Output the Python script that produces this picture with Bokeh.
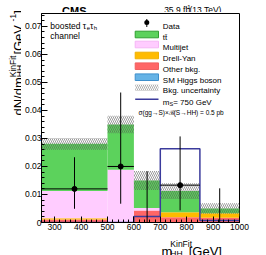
import math
from bokeh.plotting import figure
from bokeh.layouts import row, column
from bokeh.models import Range1d, FixedTicker, Label, BoxAnnotation
from bokeh.core.properties import value
from bokeh.embed import file_html
from bokeh.resources import INLINE

# ---------------- data ----------------
bin_edges = [250, 500, 600, 700, 850, 1000]
ttbar = [0.0169, 0.0162, 0.0098, 0.0075, 0.0017]
multijet = [0.0097, 0.0188, 0.0009, 0.0, 0.0]
drell_yan = [0.0004, 0.0, 0.0, 0.0018, 0.0016]
other_bkg = [0.0010, 0.0, 0.0042, 0.0018, 0.0016]
sm_higgs = [0.0001, 0.0, 0.0001, 0.0001, 0.0001]
bkg_unc = [0.0021, 0.0031, 0.0034, 0.0028, 0.0019]
signal = [0.0, 0.0, 0.0021, 0.0263, 0.0007]
data_y = [0.0120, 0.0200, 0.0, 0.01333, 0.0]
data_err_lo = [0.0071, 0.0133, 0.0, 0.0090, 0.0]
data_err_hi = [0.0113, 0.0264, 0.0183, 0.0174, 0.0122]

y_ticks = [0.0, 0.01, 0.02, 0.03, 0.04, 0.05, 0.06, 0.07]
y_tick_labels = ["0", "0.01", "0.02", "0.03", "0.04", "0.05", "0.06", "0.07"]
x_ticks = [300, 400, 500, 600, 700, 800, 900, 1000]
x_tick_labels = ["300", "400", "500", "600", "700", "800", "900", "1000"]

# ---------------- style ----------------
FONT = "Liberation Sans"
C_TT = "#5cd25c"
C_MJ = "#ffccff"
C_DY = "#ffbb00"
C_OT = "#ff6666"
C_SM = "#66b3e6"
C_SIG = "#3b3b9c"

# layout (canvas px): title column | (top strip / main / x-title strip)
PX0, PY0 = 0, 0
TOTW, TOTH = 266, 255
YW = 21
TOPH, MAINH = 12, 221
XH = TOTH - TOPH - MAINH
MAINW = TOTW - YW
XR = (250, 1000)
YR = (0, 0.0746)
FL, FR, FT, FB = 38, 239, 13, 222   # main frame edges (canvas px)

# ---------------- main figure ----------------
p = figure(width=MAINW, height=MAINH, output_backend="svg", toolbar_location=None,
           x_range=Range1d(*XR), y_range=Range1d(*YR),
           min_border_left=FL - (PX0 + YW), min_border_right=(PX0 + YW + MAINW) - FR,
           min_border_top=FT - (PY0 + TOPH), min_border_bottom=(PY0 + TOPH + MAINH) - FB)
p.background_fill_color = "white"
p.border_fill_color = "white"
p.outline_line_color = "black"
p.outline_line_width = 1
p.outline_line_alpha = 1
p.xgrid.visible = False
p.ygrid.visible = False

p.xaxis.ticker = FixedTicker(ticks=x_ticks, minor_ticks=list(range(260, 1001, 20)))
p.xaxis.major_label_overrides = {t: l for t, l in zip(x_ticks, x_tick_labels)}
p.yaxis.ticker = FixedTicker(ticks=y_ticks, minor_ticks=[i * 0.002 for i in range(0, 38)])
p.yaxis.major_label_overrides = {t: l for t, l in zip(y_ticks, y_tick_labels)}
for ax in (p.xaxis[0], p.yaxis[0]):
    ax.axis_line_color = "black"
    ax.major_tick_line_color = "black"
    ax.minor_tick_line_color = "black"
    ax.major_tick_in = 6
    ax.major_tick_out = 0
    ax.minor_tick_in = 3
    ax.minor_tick_out = 0
    ax.major_label_text_font = FONT
    ax.major_label_text_color = "black"
    ax.major_label_text_font_size = "8.5px"
    ax.axis_label = None
p.xaxis.major_label_standoff = 1
p.yaxis.major_label_standoff = 0

# stacked backgrounds
lefts = bin_edges[:-1]
rights = bin_edges[1:]
stack = [(sm_higgs, C_SM), (other_bkg, C_OT), (drell_yan, C_DY), (multijet, C_MJ), (ttbar, C_TT)]
base = [0.0] * len(lefts)
for vals, col in stack:
    top = [b + v for b, v in zip(base, vals)]
    p.quad(left=lefts, right=rights, bottom=base, top=top, fill_color=col, line_color=None)
    base = top
total = base

p.quad(left=lefts, right=rights,
       bottom=[t - u for t, u in zip(total, bkg_unc)],
       top=[t + u for t, u in zip(total, bkg_unc)],
       fill_color=None, line_color=None,
       hatch_pattern="\\", hatch_color="#555555", hatch_scale=4, hatch_weight=0.6, hatch_alpha=1)

p.step(x=bin_edges, y=signal + [signal[-1]], mode="after", line_color=C_SIG, line_width=1.5)

centers = [(l + r) / 2 for l, r in zip(lefts, rights)]
p.segment(x0=centers, x1=centers,
          y0=[y - e for y, e in zip(data_y, data_err_lo)],
          y1=[y + e for y, e in zip(data_y, data_err_hi)],
          line_color="black", line_width=1)
nz = [i for i, y in enumerate(data_y) if y > 0]
p.segment(x0=[lefts[i] for i in nz], x1=[rights[i] for i in nz],
          y0=[data_y[i] for i in nz], y1=[data_y[i] for i in nz],
          line_color="black", line_width=1)
p.scatter(x=[centers[i] for i in nz], y=[data_y[i] for i in nz], size=5,
          marker="circle", fill_color="black", line_color="black")

# ---------------- helpers ----------------
CW = {c: 0.556 for c in "0123456789"}
CW.update({' ': .278, '.': .278, '/': .278, '-': .333, '(': .333, ')': .333, '[': .278, ']': .278,
           '=': .584, 'A': .667, 'C': .722, 'F': .611, 'G': .778, 'H': .722, 'K': .667, 'M': .833,
           'N': .722, 'S': .667, 'T': .611, 'V': .667, 'a': .556, 'b': .556, 'c': .5, 'd': .556,
           'e': .556, 'f': .278, 'g': .556, 'h': .556, 'i': .222, 'l': .222, 'm': .833, 'n': .556,
           'o': .556, 'p': .556, 's': .5, 't': .278, 'τ': .45})


def tw(s, size):
    return sum(CW.get(c, .556) for c in s) * size


def lab(px, py, text, size, bold=False):
    p.add_layout(Label(x=px - FL, y=FB - py, x_units="screen", y_units="screen", text=text,
                       text_font=FONT, text_font_size=f"{size}px",
                       text_font_style="bold" if bold else "normal",
                       text_baseline="alphabetic", text_align="left", text_color="black"))


def box(l, r, t, b, **kw):
    p.add_layout(BoxAnnotation(left=l - FL, right=r - FL, top=FB - t, bottom=FB - b,
                               left_units="screen", right_units="screen",
                               top_units="screen", bottom_units="screen", **kw))


def strip(w, h, x0, y0):
    f = figure(width=w, height=h, output_backend="svg", toolbar_location=None,
               x_range=Range1d(x0, x0 + w), y_range=Range1d(y0 + h, y0),
               x_axis_type=None, y_axis_type=None, min_border=0, title=None)
    f.outline_line_color = None
    f.background_fill_color = "white"
    f.border_fill_color = "white"
    f.xgrid.visible = False
    f.ygrid.visible = False
    return f


def gtext(f, px, py, text, size, bold=False, angle=0.0):
    f.text(x=[px], y=[py], text=[text], text_font=value(FONT), text_font_size=value(f"{size}px"),
           text_font_style="bold" if bold else "normal", text_baseline="alphabetic",
           text_align="left", angle=angle, text_color="black")


# ---------------- channel text + legend (inside the frame) ----------------
cs = 8.5
x0 = 46.7
lab(x0, 25.0, "boosted τ", cs)
x0 += tw("boosted τ", cs)
lab(x0, 27.0, "e", 6)
x0 += tw("e", 6)
lab(x0, 25.0, "τ", cs)
x0 += tw("τ", cs)
lab(x0, 27.0, "h", 6)
lab(46.7, 35.0, "channel", cs)

rows = [23.0, 34.0, 44.0, 55.0, 65.7, 76.7, 87.3, 98.7]
BX0, BX1, TX = 131.7, 155.0, 159.3
hh = 3.3
box(143.3 - 0.5, 143.3 + 0.5, rows[0] - 4.5, rows[0] + 3.5, fill_color="black", fill_alpha=1, line_color=None)
box(143.3 - 2.5, 143.3 + 2.5, rows[0] - 3.5, rows[0] + 1.5, fill_color="black", fill_alpha=1,
    line_color=None, border_radius=3)
lab(TX, rows[0] + 2.9, "Data", 8)
legend_fills = [(C_TT, "#2f9f2f", "tt\u0304"), (C_MJ, "#f5b5f5", "Multijet"),
                (C_DY, "#f0b000", "Drell-Yan"), (C_OT, "#f06060", "Other bkg."),
                (C_SM, "#3d8fcc", "SM Higgs boson")]
for (fc, lc, txt), r in zip(legend_fills, rows[1:6]):
    box(BX0, BX1, r - hh, r + hh, fill_color=fc, fill_alpha=1, line_color=lc, line_alpha=1, line_width=1)
    lab(TX, r + 2.9, txt, 8)
box(BX0, BX1, rows[6] - hh, rows[6] + hh, fill_color=None, fill_alpha=0, line_color=None,
    hatch_pattern="\\", hatch_color="#777777", hatch_scale=4, hatch_weight=0.6, hatch_alpha=1)
lab(TX, rows[6] + 2.9, "Bkg. uncertainty", 8)
box(BX0, BX1, rows[7] - 0.75, rows[7] + 0.75, fill_color=C_SIG, fill_alpha=1, line_color=None)
x0 = TX
lab(x0, rows[7] + 2.9, "m", 8)
x0 += tw("m", 8)
lab(x0, rows[7] + 4.6, "S", 5.6)
x0 += tw("S", 5.6)
lab(x0, rows[7] + 2.9, " = 750 GeV", 8)
lab(135, 111.5, "σ(gg→S)×ℬ(S→HH) = 0.5 pb", 6.5)

# ---------------- top strip: CMS + lumi ----------------
top_f = strip(MAINW, TOPH, PX0 + YW, PY0)
gtext(top_f, 46.5, 10.8, "CMS", 11, bold=True)
ls = 8.5
parts = ["35.9 fb", "-1", " (13 TeV)"]
tot = tw(parts[0], ls) + tw(parts[1], 6) + tw(parts[2], ls)
x0 = 239.5 - tot
gtext(top_f, x0, 9.5, parts[0], ls)
x0 += tw(parts[0], ls)
gtext(top_f, x0, 6.2, parts[1], 6)
x0 += tw(parts[1], 6)
gtext(top_f, x0, 9.5, parts[2], ls)

# ---------------- left column: y-axis title (rotated) ----------------
y_f = strip(YW, TOTH, PX0, PY0)
F = 13.0
fs = 0.65 * F
bx, by = 18.3, 115.0
ang = math.pi / 2
along = 0.0
gtext(y_f, bx, by - along, "dN/dm", F, angle=ang)
along += tw("dN/dm", F)
gtext(y_f, bx + 0.06 * F, by - along, "HH", fs, angle=ang)
gtext(y_f, bx - 0.42 * F, by - along, "KinFit", fs, angle=ang)
along += max(tw("HH", fs), tw("KinFit", fs)) + 1
gtext(y_f, bx, by - along, " [GeV", F, angle=ang)
along += tw(" [GeV", F)
gtext(y_f, bx - 0.42 * F, by - along, "-1", fs, angle=ang)
along += tw("-1", fs)
gtext(y_f, bx, by - along, "]", F, angle=ang)

# ---------------- bottom strip: x-axis title ----------------
x_f = strip(MAINW, XH, PX0 + YW, PY0 + TOPH + MAINH)
FX = 13.0
fsx = 8.5
wtot = tw("m", FX) + max(tw("HH", fsx), tw("KinFit", fsx)) + 1 + tw(" [GeV]", FX)
x0 = 240.0 - wtot
gtext(x_f, x0, 251.0, "m", FX)
x0 += tw("m", FX)
gtext(x_f, x0, 253.3, "HH", fsx)
gtext(x_f, x0, 243.0, "KinFit", fsx)
x0 += max(tw("HH", fsx), tw("KinFit", fsx)) + 1
gtext(x_f, x0, 251.0, " [GeV]", FX)

layout = row(y_f, column(top_f, p, x_f, spacing=0), spacing=0)
open("out.html", "w").write(file_html(layout, INLINE))
